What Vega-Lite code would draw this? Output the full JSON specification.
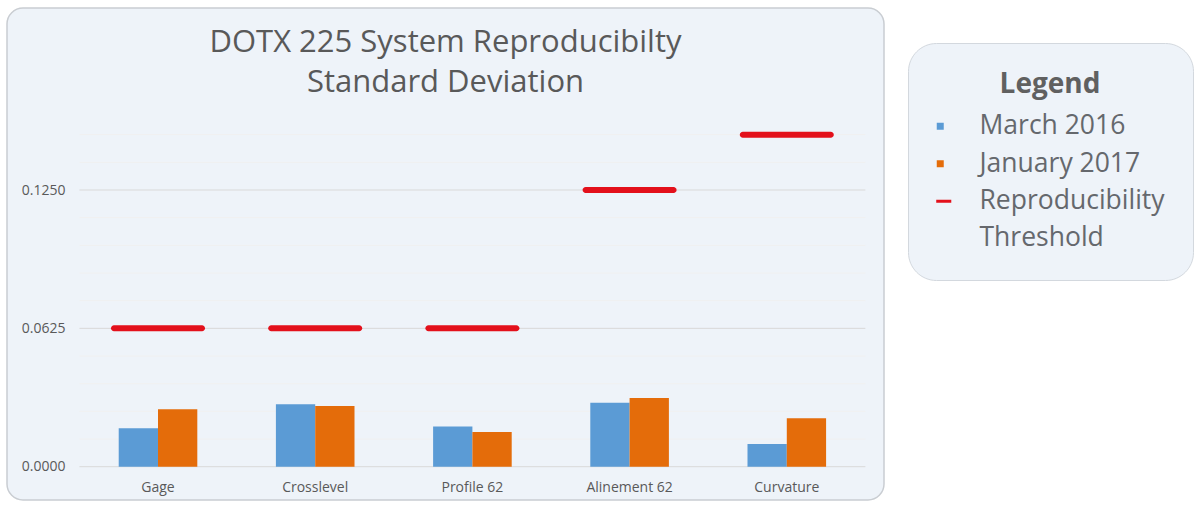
{
  "$schema": "https://vega.github.io/schema/vega-lite/v6.json",
  "autosize": {"type": "none"},
  "padding": {"left": 7, "top": 8, "right": 315, "bottom": 5},
  "width": 877,
  "height": 492,
  "background": "#ffffff",
  "title": {
    "text": ["DOTX 225 System Reproducibilty", "Standard Deviation"],
    "font": "Open Sans",
    "fontSize": 31,
    "fontWeight": "normal",
    "color": "#595959",
    "anchor": "middle",
    "frame": "group",
    "baseline": "alphabetic",
    "lineHeight": 40,
    "offset": -115
  },
  "datasets": {
    "measurements": [
      {"category": "Gage", "series": "March 2016", "value": 0.0174},
      {"category": "Gage", "series": "January 2017", "value": 0.0259},
      {"category": "Gage", "series": "Reproducibility Threshold", "value": 0.0625},
      {"category": "Crosslevel", "series": "March 2016", "value": 0.0282},
      {"category": "Crosslevel", "series": "January 2017", "value": 0.0274},
      {"category": "Crosslevel", "series": "Reproducibility Threshold", "value": 0.0625},
      {"category": "Profile 62", "series": "March 2016", "value": 0.0182},
      {"category": "Profile 62", "series": "January 2017", "value": 0.0157},
      {"category": "Profile 62", "series": "Reproducibility Threshold", "value": 0.0625},
      {"category": "Alinement 62", "series": "March 2016", "value": 0.0289},
      {"category": "Alinement 62", "series": "January 2017", "value": 0.031},
      {"category": "Alinement 62", "series": "Reproducibility Threshold", "value": 0.125},
      {"category": "Curvature", "series": "March 2016", "value": 0.0103},
      {"category": "Curvature", "series": "January 2017", "value": 0.0219},
      {"category": "Curvature", "series": "Reproducibility Threshold", "value": 0.15}
    ],
    "majorGrid": [{"level": 0}, {"level": 0.0625}, {"level": 0.125}],
    "minorGrid": [
      {"level": 0.0125}, {"level": 0.025}, {"level": 0.0375}, {"level": 0.05},
      {"level": 0.075}, {"level": 0.0875}, {"level": 0.1}, {"level": 0.1125},
      {"level": 0.1375}, {"level": 0.15}
    ]
  },
  "encoding": {
    "x": {
      "type": "nominal",
      "scale": {
        "type": "band",
        "domain": ["Gage", "Crosslevel", "Profile 62", "Alinement 62", "Curvature"],
        "paddingInner": 0.5,
        "paddingOuter": 0.5395,
        "align": 0.6586
      },
      "axis": {
        "title": null,
        "domain": false,
        "ticks": false,
        "tickSize": 0,
        "grid": false,
        "labelPadding": 0,
        "labelBaseline": "alphabetic",
        "labelFont": "Open Sans",
        "labelFontSize": 14,
        "labelColor": "#595959",
        "labelAngle": 0,
        "offset": -9
      }
    },
    "y": {
      "type": "quantitative",
      "scale": {"domain": [-0.015043, 0.20722], "nice": false, "zero": false},
      "axis": {
        "title": null,
        "domain": false,
        "ticks": false,
        "tickSize": 0,
        "grid": false,
        "values": [0, 0.0625, 0.125],
        "format": ".4f",
        "labelPadding": 0,
        "labelFont": "Open Sans",
        "labelFontSize": 14,
        "labelColor": "#595959",
        "offset": -58
      }
    }
  },
  "layer": [
    {
      "mark": {"type": "rect", "fill": "#ffffff"},
      "encoding": {
        "x": {"datum": "Gage", "bandPosition": -0.5},
        "x2": {"datum": "Curvature", "bandPosition": 1.5},
        "y": {"datum": 0},
        "y2": {"datum": 0.1557}
      }
    },
    {
      "data": {"name": "minorGrid"},
      "mark": {"type": "rule", "stroke": "#F0F0F0", "strokeWidth": 1},
      "encoding": {
        "x": {"datum": "Gage", "bandPosition": -0.5},
        "x2": {"datum": "Curvature", "bandPosition": 1.5},
        "y": {"field": "level"}
      }
    },
    {
      "data": {"name": "majorGrid"},
      "mark": {"type": "rule", "stroke": "#D9D9D9", "strokeWidth": 1},
      "encoding": {
        "x": {"datum": "Gage", "bandPosition": -0.5},
        "x2": {"datum": "Curvature", "bandPosition": 1.5},
        "y": {"field": "level"}
      }
    },
    {
      "data": {"name": "measurements"},
      "transform": [{"filter": "datum.series !== 'Reproducibility Threshold'"}],
      "mark": {"type": "bar", "opacity": 1},
      "encoding": {
        "x": {"field": "category"},
        "y": {"field": "value"},
        "xOffset": {
          "field": "series",
          "sort": ["March 2016", "January 2017"],
          "scale": {"paddingInner": 0, "paddingOuter": 0}
        },
        "color": {
          "field": "series",
          "type": "nominal",
          "scale": {
            "domain": ["March 2016", "January 2017", "Reproducibility Threshold"],
            "range": ["#5B9BD5", "#E46C0A", "#E3101B"]
          },
          "legend": {
            "title": "Legend",
            "orient": "none",
            "legendX": 901,
            "legendY": 35,
            "direction": "vertical",
            "fillColor": "#EEF3F9",
            "strokeColor": "#D3D8DE",
            "cornerRadius": 28,
            "padding": 28,
            "titleFont": "Open Sans",
            "titleFontSize": 28,
            "titleFontWeight": "bold",
            "titleColor": "#606060",
            "titleAnchor": "middle",
            "titleAlign": "center",
            "titlePadding": 14,
            "symbolType": {"expr": "datum.value === 'Reproducibility Threshold' ? 'M-1.15,-0.43H3.15V0.43H-1.15Z' : 'square'"},
            "symbolSize": 49,
            "symbolOffset": -9,
            "labelOffset": 26,
            "labelFont": "Open Sans",
            "labelFontSize": 26.5,
            "labelColor": "#65686D",
            "labelLimit": 400,
            "rowPadding": 10.5,
            "labelExpr": "datum.label === 'Reproducibility Threshold' ? ['Reproducibility', 'Threshold'] : datum.label"
          }
        }
      }
    },
    {
      "data": {"name": "measurements"},
      "transform": [{"filter": "datum.series === 'Reproducibility Threshold'"}],
      "mark": {"type": "tick", "thickness": 6, "size": 94, "cornerRadius": 3, "orient": "horizontal", "opacity": 1},
      "encoding": {
        "x": {"field": "category"},
        "y": {"field": "value"},
        "color": {"field": "series", "type": "nominal"}
      }
    }
  ],
  "config": {
    "view": {"fill": "#EEF3F9", "stroke": "#C9CDD2", "strokeWidth": 1.5, "cornerRadius": 16},
    "font": "Open Sans",
    "style": {"guide-label": {"lineHeight": 37}}
  }
}
